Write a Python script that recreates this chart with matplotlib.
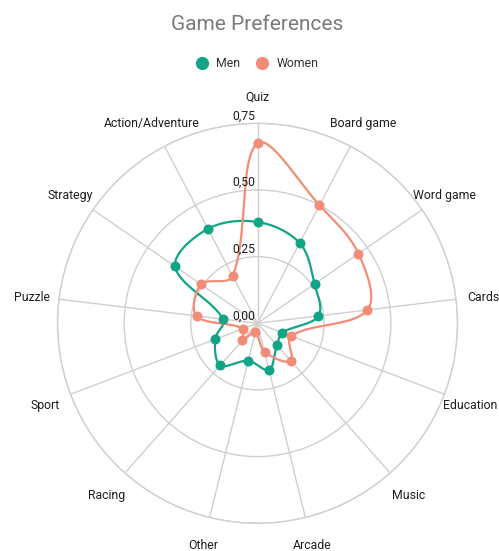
import numpy as np
import matplotlib
matplotlib.use("Agg")
import matplotlib.pyplot as plt

plt.rcParams['font.family'] = ['Roboto', 'DejaVu Sans']

# Chart data
categories = ["Quiz", "Board game", "Word game", "Cards", "Education", "Music",
              "Arcade", "Other", "Racing", "Sport", "Puzzle", "Strategy",
              "Action/Adventure"]
men = [0.38, 0.34, 0.26, 0.23, 0.10, 0.11, 0.18, 0.145, 0.21, 0.17, 0.13, 0.375, 0.40]
women = [0.675, 0.50, 0.46, 0.415, 0.135, 0.19, 0.11, 0.035, 0.085, 0.057, 0.23, 0.257, 0.20]
r_ticks = [0.0, 0.25, 0.5, 0.75]
r_tick_labels = ["0,00", "0,25", "0,50", "0,75"]
series_names = ["Men", "Women"]

MEN_COLOR = "#12a487"
WOMEN_COLOR = "#f28c76"
GRID_COLOR = "#cfcfcf"
TEXT_COLOR = "#1e1e1e"

W, H = 499, 551
fig = plt.figure(figsize=(W / 100, H / 100), dpi=100)

# polar area: centre (257.5, 323.3) px, radius 200 px
cx, cy, R = 257.5, 323.3, 200.0
ax = fig.add_axes([(cx - R) / W, (H - cy - R) / H, 2 * R / W, 2 * R / H],
                  projection="polar")
ax.set_theta_offset(np.pi / 2)
ax.set_theta_direction(-1)
ax.set_ylim(0, 0.75)

n = len(categories)
angles = np.arange(n) * 2 * np.pi / n

ax.set_xticks(angles)
ax.set_xticklabels([])
ax.set_yticks(r_ticks[1:])
ax.set_yticklabels([])
ax.grid(True, color=GRID_COLOR, linewidth=1.0)
ax.spines["polar"].set_color(GRID_COLOR)
ax.spines["polar"].set_linewidth(1.0)
ax.tick_params(length=0)


def smooth_closed(values, tension=0.35, steps=40):
    """Closed cubic spline through radar vertices, computed in cartesian space."""
    v = np.asarray(values, dtype=float)
    pts = np.column_stack([v * np.sin(angles), v * np.cos(angles)])
    m = len(pts)
    cps = []
    for i in range(m):
        p0, p1, p2 = pts[i - 1], pts[i], pts[(i + 1) % m]
        d01 = np.hypot(*(p1 - p0))
        d12 = np.hypot(*(p2 - p1))
        tot = d01 + d12 if d01 + d12 > 0 else 1.0
        fa = tension * d01 / tot
        fb = tension * d12 / tot
        cps.append((p1 - fa * (p2 - p0), p1 + fb * (p2 - p0)))
    t = np.linspace(0, 1, steps, endpoint=False)[:, None]
    segs = []
    for i in range(m):
        a = pts[i]
        b = cps[i][1]
        c = cps[(i + 1) % m][0]
        d = pts[(i + 1) % m]
        seg = ((1 - t) ** 3) * a + 3 * ((1 - t) ** 2) * t * b + 3 * (1 - t) * t ** 2 * c + t ** 3 * d
        segs.append(seg)
    curve = np.vstack(segs + [pts[:1]])
    x, y = curve[:, 0], curve[:, 1]
    th = np.arctan2(x, y)
    rr = np.hypot(x, y)
    return th, rr


for vals, color in [(men, MEN_COLOR), (women, WOMEN_COLOR)]:
    th, rr = smooth_closed(vals)
    ax.plot(th, rr, color=color, linewidth=1.6, zorder=3, clip_on=False)
    ax.plot(angles, vals, "o", color=color, markersize=7.2, markeredgewidth=0,
            zorder=4, clip_on=False)

# category labels around the outside
for ang, lab in zip(angles, categories):
    ax.annotate(lab, xy=(ang, 0.853), xytext=(0, -1.5), textcoords="offset pixels",
                ha="center", va="center", fontsize=8.8, color=TEXT_COLOR,
                annotation_clip=False)

# radial tick labels along the top spoke
for rv, lab in zip(r_ticks, r_tick_labels):
    ax.annotate(lab, xy=(0, rv), xytext=(-2, 1), textcoords="offset pixels",
                ha="right", va="bottom", fontsize=8.8, color=TEXT_COLOR,
                annotation_clip=False)

# title
fig.text(257.5 / W, 1 - 24.5 / H, "Game Preferences", ha="center", va="center",
         fontsize=15, color="#7a7a7a")

# legend
legend_items = [(series_names[0], MEN_COLOR, 201.7), (series_names[1], WOMEN_COLOR, 261.7)]
for name, color, lx in legend_items:
    fig.lines.append(plt.Line2D([lx / W], [1 - 62.7 / H], marker="o", markersize=9.5,
                                markeredgewidth=0, color=color,
                                transform=fig.transFigure))
    fig.text((lx + 14.5) / W, 1 - 63.2 / H, name, ha="left", va="center",
             fontsize=8.8, color="#333333")

fig.savefig("out.png", dpi=100)
